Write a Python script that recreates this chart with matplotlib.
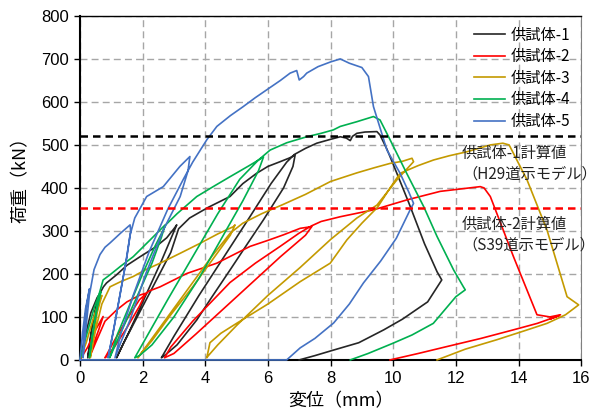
import matplotlib
matplotlib.use('Agg')
import matplotlib.pyplot as plt

# 供試体ごとの荷重-変位 (読み取り値)
s1_x = [0, 0.15, 0.35, 0.55, 0.65, 0.5, 0.35, 0.25, 0.4, 0.6, 0.75, 0.85, 1.17, 1.5, 1.92, 2.4, 2.77, 3.0, 3.09,
        2.95, 2.6, 2.1, 1.6, 1.3, 1.17, 1.4, 1.9, 2.4, 2.9, 3.15, 3.5, 4.1, 4.79, 5.2, 5.64, 6.0, 6.39, 6.7, 6.87,
        6.8, 6.5, 5.86, 5.3, 4.79, 4.2, 3.73, 3.1, 2.7, 2.6, 3.0, 3.8, 4.6, 5.4, 6.1, 6.6, 6.85, 7.2, 7.56, 8.0,
        8.31, 8.5, 8.63, 8.7, 8.84, 9.1, 9.48, 9.58, 9.8, 10.0, 10.5, 11.0, 11.4, 11.55, 11.1, 10.3, 9.7, 8.9,
        8.1, 7.5, 7.0]
s1_y = [0, 50, 110, 145, 155, 120, 60, 5, 80, 150, 170, 179, 198, 220, 240, 262, 284, 305, 314,
        290, 230, 150, 70, 25, 5, 40, 110, 180, 250, 305, 330, 355, 380, 410, 434, 450, 461, 470, 477,
        450, 400, 326, 265, 209, 145, 93, 35, 10, 5, 55, 150, 240, 330, 410, 460, 478, 492, 504, 513,
        519, 516, 510, 520, 527, 530, 531, 523, 490, 455, 365, 270, 205, 186, 135, 95, 70, 40,
        23, 10, 0]

s2_x = [0, 0.25, 0.5, 0.74, 0.6, 0.4, 0.3, 0.5, 0.8, 1.17, 1.5, 1.92, 2.1, 1.9, 1.5, 1.1, 0.85, 0.8, 1.1, 1.5,
        1.9, 2.2, 2.56, 3.0, 3.41, 4.37, 5.43, 6.0, 6.5, 7.03, 7.4, 7.2, 6.4, 5.5, 4.6, 3.7, 3.0, 2.7, 2.9,
        3.6, 4.79, 5.6, 6.39, 7.0, 7.4, 7.7, 8.31, 9.37, 10.43, 11.5, 12.2, 12.78, 12.9, 13.1, 13.84, 14.59,
        15.0, 15.34, 15.0, 15.3, 14.6, 13.84, 12.8, 11.71, 10.8, 9.9]
s2_y = [0, 30, 70, 101, 70, 30, 5, 40, 90, 116, 135, 151, 155, 125, 75, 30, 8, 5, 45, 95,
        140, 160, 170, 186, 201, 225, 264, 278, 291, 306, 310, 290, 240, 180, 120, 60, 15, 5, 30,
        90, 180, 225, 264, 295, 312, 322, 333, 349, 372, 392, 398, 403, 400, 380, 240, 105,
        100, 105, 95, 103, 85, 70, 50, 31, 15, 0]

s3_x = [0, 0.2, 0.4, 0.6, 0.7, 0.55, 0.4, 0.33, 0.5, 0.7, 0.96, 1.3, 1.7, 2.1, 2.56, 3.2, 3.83, 4.4, 4.9,
        4.95, 4.8, 4.3, 3.6, 2.9, 2.3, 1.95, 1.85, 2.2, 2.8, 3.5, 4.2, 4.8, 5.2, 5.8, 6.5, 7.2, 8.0, 8.84,
        9.4, 9.9, 10.3, 10.6, 10.65, 10.12, 9.48, 8.84, 8.0, 7.03, 6.0, 5.0, 4.4, 4.1, 4.05, 4.15, 4.5, 5.0,
        6.0, 7.03, 7.99, 8.52, 9.0, 9.5, 9.9, 10.22, 10.8, 11.29, 11.8, 12.35, 13.1, 13.5, 13.7, 14.27,
        14.91, 15.55, 15.92, 15.5, 14.91, 14.2, 13.31, 12.3, 11.4]
s3_y = [0, 40, 90, 135, 150, 110, 40, 5, 70, 130, 170, 182, 194, 210, 225, 248, 271, 293, 310,
        314, 290, 240, 170, 105, 45, 15, 5, 40, 100, 170, 240, 295, 318, 340, 362, 385, 415, 435,
        447, 457, 462, 469, 461, 419, 360, 330, 280, 215, 150, 80, 35, 10, 5, 40, 62, 85,
        130, 182, 225, 279, 318, 355, 400, 434, 452, 465, 475, 484, 500, 504, 500, 419,
        302, 147, 128, 105, 85, 68, 47, 25, 0]

s4_x = [0, 0.2, 0.45, 0.6, 0.67, 0.55, 0.4, 0.3, 0.45, 0.6, 0.74, 0.96, 1.3, 1.7, 2.24, 2.5, 2.72, 2.6, 2.3,
        1.9, 1.5, 1.1, 0.95, 1.2, 1.6, 2.0, 2.4, 2.75, 3.1, 3.73, 4.3, 4.79, 5.43, 5.86, 5.7, 5.2, 4.5, 3.8,
        3.0, 2.3, 1.9, 1.75, 2.1, 2.8, 3.6, 4.4, 5.1, 5.7, 6.07, 6.6, 7.24, 7.7, 8.09, 8.31, 8.84, 9.37, 9.58,
        9.9, 10.43, 10.97, 11.4, 11.93, 12.24, 12.3, 12.0, 11.28, 10.6, 10.0, 9.2, 8.63]
s4_y = [0, 55, 120, 150, 158, 120, 60, 5, 80, 150, 186, 198, 218, 240, 279, 298, 314, 285, 225,
        160, 95, 30, 5, 60, 130, 200, 265, 315, 340, 380, 405, 426, 453, 472, 440, 370, 280, 190,
        100, 35, 10, 5, 50, 140, 240, 340, 420, 465, 488, 505, 519, 527, 535, 543, 554, 566, 558,
        512, 434, 357, 287, 209, 170, 163, 147, 85, 58, 39, 15, 0]

s5_x = [0, 0.08, 0.18, 0.28, 0.3, 0.2, 0.12, 0.1, 0.2, 0.3, 0.45, 0.64, 0.8, 0.96, 1.3, 1.6, 1.62, 1.5, 1.3,
        1.1, 0.95, 0.9, 1.05, 1.25, 1.45, 1.6, 1.75, 2.13, 2.66, 3.19, 3.51, 3.45, 3.2, 2.66, 2.1, 1.6, 1.3,
        1.12, 1.3, 1.7, 2.2, 2.8, 3.3, 3.6, 4.05, 4.37, 4.8, 5.21, 5.6, 5.96, 6.4, 6.71, 6.92, 7.0, 7.14,
        7.24, 7.6, 8.0, 8.31, 8.6, 8.84, 9.0, 9.1, 9.21, 9.37, 9.8, 10.22, 10.5, 10.65, 10.54, 10.1, 9.6,
        9.05, 8.6, 8.1, 7.5, 7.03, 6.6, 0]
s5_y = [0, 60, 120, 155, 165, 120, 50, 5, 80, 150, 210, 245, 262, 272, 295, 314, 300, 240, 160,
        80, 25, 5, 60, 140, 220, 290, 330, 380, 403, 450, 473, 440, 380, 302, 200, 93, 40,
        5, 60, 150, 250, 350, 420, 460, 512, 543, 568, 589, 610, 628, 650, 667, 673, 651, 659,
        667, 682, 693, 700, 690, 684, 680, 670, 659, 589, 488, 434, 390, 364, 349, 283, 230,
        179, 130, 86, 50, 28, 0, 0]

names = ['供試体-1', '供試体-2', '供試体-3', '供試体-4', '供試体-5']
colors = ['#262626', '#FF0000', '#C49A00', '#00B050', '#4472C4']

calc1 = 520  # 供試体-1計算値
calc2 = 353  # 供試体-2計算値

plt.rcParams['font.family'] = ['Noto Sans CJK JP', 'DejaVu Sans']

fig = plt.figure(figsize=(6.01, 4.19), dpi=100)
ax = fig.add_axes([0.133, 0.141, 0.834, 0.821])

data = [(s1_x, s1_y), (s2_x, s2_y), (s3_x, s3_y), (s4_x, s4_y), (s5_x, s5_y)]
for (xs, ys), nm, c in zip(data, names, colors):
    ax.plot(xs, ys, color=c, lw=1.2, label=nm, zorder=3, clip_on=False)

ax.axhline(calc1, color='black', ls=(0, (3, 2)), lw=1.8, zorder=4)
ax.axhline(calc2, color='#FF0000', ls=(0, (3, 2)), lw=1.8, zorder=4)

ax.text(12.2, 500, '供試体-1計算値\n（H29道示モデル）', fontsize=11, va='top', ha='left',
        linespacing=1.25, color='#222222')
ax.text(12.2, 334, '供試体-2計算値\n（S39道示モデル）', fontsize=11, va='top', ha='left',
        linespacing=1.25, color='#222222')

ax.set_xlim(0, 16)
ax.set_ylim(0, 800)
ax.set_xticks(range(0, 17, 2))
ax.set_yticks(range(0, 801, 100))
ax.grid(True, color='#A6A6A6', ls=(0, (5, 3)), lw=1.0, zorder=0)
ax.set_axisbelow(True)

for lab in ax.get_xticklabels() + ax.get_yticklabels():
    lab.set_fontfamily('Liberation Sans')
    lab.set_fontsize(12)
ax.tick_params(axis='both', direction='out', length=4, width=1, pad=4)

for side in ['left', 'bottom', 'top']:
    ax.spines[side].set_color('black')
ax.spines['left'].set_linewidth(1.5)
ax.spines['bottom'].set_linewidth(1.5)
ax.spines['top'].set_linewidth(1.0)
ax.spines['right'].set_color('#808080')

ax.set_xlabel('変位（mm）', fontsize=13)
ax.set_ylabel('荷重（kN）', fontsize=13)
ax.xaxis.set_label_coords(0.52, -0.095)
ax.yaxis.set_label_coords(-0.1, 0.535)

leg = ax.legend(loc='upper right', frameon=False, fontsize=11, handlelength=2.0,
                handletextpad=0.4, labelspacing=0.3, borderaxespad=0.3)

fig.savefig('out.png', dpi=100)
